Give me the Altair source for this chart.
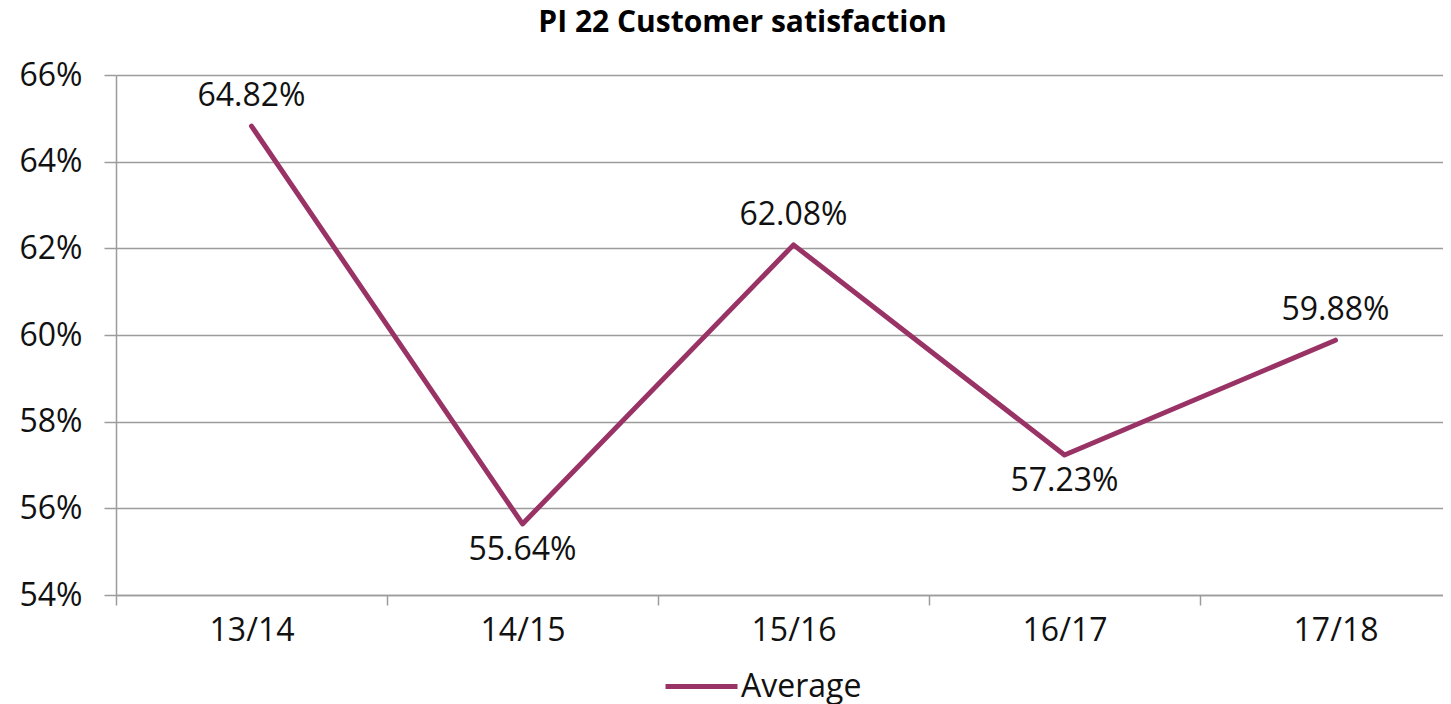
import altair as alt
import pandas as pd

years = ["13/14", "14/15", "15/16", "16/17", "17/18"]
values = [0.6482, 0.5564, 0.6208, 0.5723, 0.5988]
label_side = ["above", "below", "above", "below", "above"]
series = ["Average"] * len(years)
y_ticks = [0.54, 0.56, 0.58, 0.60, 0.62, 0.64, 0.66]

df = pd.DataFrame({"year": years, "value": values, "side": label_side, "series": series})

FONT = "Open Sans"
COLOR = "#993366"
GRID = "#9c9c9c"
TXT = "#111111"
FS = 32

x_enc = alt.X(
    "year:N", sort=years, title=None,
    scale=alt.Scale(type="band", range=[0, 1355], paddingInner=0, paddingOuter=0),
    axis=alt.Axis(labelAngle=0, tickBand="extent", labelFontSize=FS, labelFont=FONT,
                  labelColor=TXT, labelPadding=10, tickSize=10, tickColor=GRID,
                  tickWidth=1.5, domainColor=GRID, domainWidth=1.5, grid=False),
)
y_enc = alt.Y(
    "value:Q", title=None,
    scale=alt.Scale(domain=[0.54, 0.66], nice=False, zero=False),
    axis=alt.Axis(format=".0%", values=y_ticks, labelFontSize=FS, labelFont=FONT,
                  labelColor=TXT, labelPadding=22, tickSize=12, tickColor=GRID,
                  tickWidth=1.5, domainColor=GRID, domainWidth=1.5, grid=True,
                  gridColor=GRID, gridWidth=1.5),
)

base = alt.Chart(df)

line = base.mark_line(strokeWidth=5, strokeCap="round", strokeJoin="round").encode(
    x=x_enc, y=y_enc,
    color=alt.Color("series:N", title=None,
                    scale=alt.Scale(range=[COLOR]),
                    legend=alt.Legend(orient="none", legendX=547, legendY=573,
                                      symbolType="stroke", symbolSize=5184,
                                      symbolStrokeWidth=5, labelFontSize=FS,
                                      labelFont=FONT, labelColor=TXT, labelOffset=1,
                                      padding=0)),
)

above = base.mark_text(dy=-30, fontSize=FS, font=FONT, color=TXT).encode(
    x=alt.X("year:N", sort=years), y="value:Q", text=alt.Text("value:Q", format=".2%")
).transform_filter(alt.datum.side == "above")

below = base.mark_text(dy=26, fontSize=FS, font=FONT, color=TXT).encode(
    x=alt.X("year:N", sort=years), y="value:Q", text=alt.Text("value:Q", format=".2%")
).transform_filter(alt.datum.side == "below")

chart = alt.layer(line, above, below).properties(
    width=1327, height=520,
    autosize=alt.AutoSizeParams(type="none"),
    padding={"left": 108, "top": 67, "right": 0, "bottom": 110},
    title=alt.TitleParams("PI 22 Customer satisfaction", font=FONT, fontSize=30,
                          fontWeight="bold", color="#000000", anchor="middle",
                          dx=-37, offset=21),
    background="white",
).configure_view(stroke=None)

chart.save("out.html", embed_options={"renderer": "svg", "actions": False})
